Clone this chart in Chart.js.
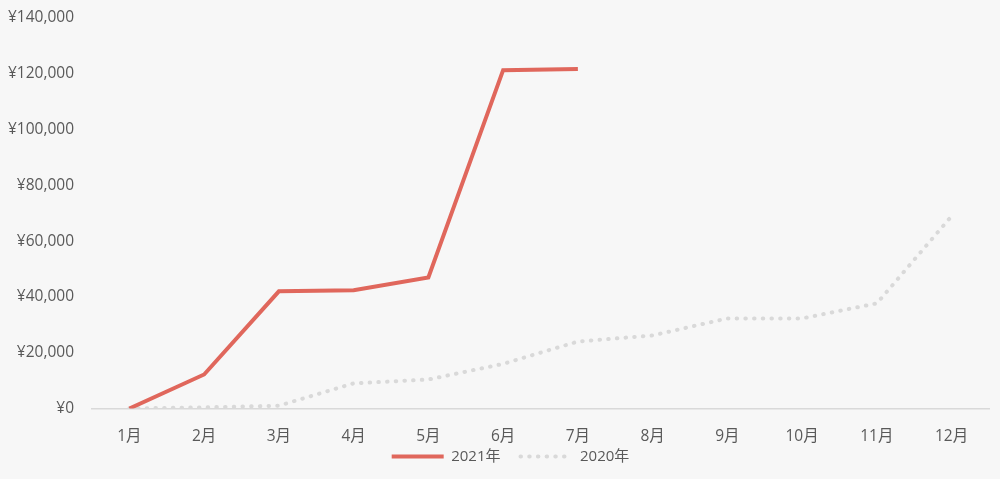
<!DOCTYPE html>
<html>
<head>
<meta charset="utf-8">
<script src="https://cdn.jsdelivr.net/npm/chart.js@4/dist/chart.umd.min.js"></script>
<style>
html,body{margin:0;padding:0;background:#f7f7f7;}
#wrap{width:1000px;height:479px;position:relative;}
</style>
</head>
<body>
<div id="wrap"><canvas id="c" width="1000" height="479"></canvas></div>
<script>
const categories = ['1月','2月','3月','4月','5月','6月','7月','8月','9月','10月','11月','12月'];
const series2021 = [0, 12200, 42000, 42400, 47000, 121300, 121700, null, null, null, null, null];
const series2020 = [0, 400, 1000, 9000, 10400, 16000, 24000, 26200, 32300, 32300, 37700, 69000];
const yTicks = [0, 20000, 40000, 60000, 80000, 100000, 120000, 140000];

const fontFam = "'Open Sans','Noto Sans CJK JP',sans-serif";
const noLabelClip = (s) => { s._computeLabelArea = () => undefined; };
new Chart(document.getElementById('c'), {
  type: 'line',
  data: {
    labels: categories,
    datasets: [
      {
        label: '2021年',
        data: series2021,
        borderColor: '#e0675c',
        backgroundColor: '#e0675c',
        borderWidth: 4,
        pointRadius: 0,
        tension: 0,
        spanGaps: false,
        borderJoinStyle: 'miter'
      },
      {
        label: '2020年',
        data: series2020,
        borderColor: '#d9d9d9',
        backgroundColor: '#d9d9d9',
        borderWidth: 4,
        borderDash: [0.5, 8.2],
        borderCapStyle: 'round',
        pointRadius: 0,
        tension: 0
      }
    ]
  },
  options: {
    responsive: false,
    animation: false,
    layout: { autoPadding: false, padding: { top: 18, right: 11, left: 32, bottom: 5 } },
    plugins: {
      legend: {
        position: 'bottom',
        labels: {
          usePointStyle: true,
          pointStyle: 'line',
          pointStyleWidth: 52,
          boxWidth: 52,
          boxHeight: 15,
          color: '#595959',
          font: { family: fontFam, size: 15 },
          padding: 20,
          generateLabels: (chart) => {
            const items = Chart.defaults.plugins.legend.labels.generateLabels(chart);
            items.forEach(it => {
              const ds = chart.data.datasets[it.datasetIndex];
              it.lineDash = ds.borderDash || [];
              it.lineCap = ds.borderCapStyle || 'butt';
              it.lineWidth = ds.borderWidth;
              it.strokeStyle = ds.borderColor;
            });
            return items;
          }
        }
      },
      tooltip: { enabled: false }
    },
    scales: {
      x: {
        offset: true,
        afterFit: (s) => { s.height = 20.5; s.paddingLeft = 0; s.paddingRight = 0; noLabelClip(s); },
        grid: { display: false, drawTicks: false },
        border: { display: true, color: '#d9d9d9', width: 1.5 },
        ticks: { color: '#595959', font: { family: fontFam, size: 15.5 }, padding: 19, maxRotation: 0 }
      },
      y: {
        min: 0,
        max: 140000,
        afterFit: (s) => { s.width = 60; s.paddingTop = 0; s.paddingBottom = 0; noLabelClip(s); },
        afterBuildTicks: (s) => { s.ticks = yTicks.map(v => ({ value: v })); },
        grid: { display: false, drawTicks: false },
        border: { display: false },
        ticks: {
          color: '#595959',
          font: { family: fontFam, size: 15.5 },
          padding: 18,
          callback: (v) => '¥' + Number(v).toLocaleString('en-US')
        }
      }
    }
  }
});
</script>
</body>
</html>
